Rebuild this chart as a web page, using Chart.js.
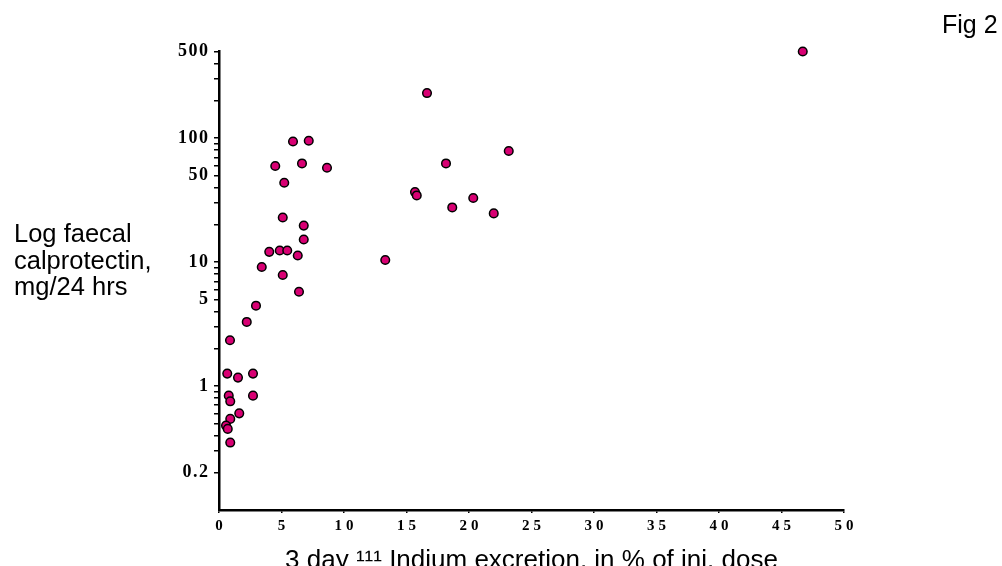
<!DOCTYPE html>
<html>
<head>
<meta charset="utf-8">
<script src="https://cdn.jsdelivr.net/npm/chart.js@4/dist/chart.umd.min.js"></script>
<style>
  body { margin: 0; background: #fff; }
  #wrap { position: relative; width: 1002px; height: 566px; overflow: hidden; }
  #figLabel { position: absolute; left: 942px; top: 12px; font: 25px/25px "Liberation Sans", Arial, sans-serif; color: #000; }
  #yTitle { position: absolute; left: 14px; top: 220px; font: 25.5px/26.7px "Liberation Sans", Arial, sans-serif; color: #000; }
</style>
</head>
<body>
<div id="wrap">
  <canvas id="scatterChart" width="1002" height="566"></canvas>
  <div id="figLabel">Fig 2</div>
  <div id="yTitle">Log faecal<br>calprotectin,<br>mg/24 hrs</div>
</div>
<script>
// 3 day 111In excretion (% of injected dose)
const indiumExcretion = [
  46.7, 16.64, 5.92, 7.18, 23.18, 4.5, 6.64, 8.64, 18.16, 5.22,
  15.68, 15.82, 20.34, 18.66, 21.98, 5.1, 6.78, 6.78, 4.02, 4.86,
  5.46, 6.3, 13.3, 3.42, 5.1, 6.4, 2.96, 2.22, 0.88, 0.66,
  2.72, 1.52, 0.78, 2.72, 0.9, 1.62, 0.9, 0.56, 0.7, 0.9
];
// faecal calprotectin, mg/24 hrs
const calprotectin = [
  500, 231, 94, 95.3, 78.7, 59.6, 62.5, 57.7, 62.5, 43.7,
  36.7, 34.5, 32.9, 27.6, 24.7, 22.9, 19.7, 15.2, 12.1, 12.4,
  12.4, 11.3, 10.4, 9.13, 7.87, 5.77, 4.45, 3.29, 2.34, 1.26,
  1.26, 1.17, 0.837, 0.837, 0.753, 0.602, 0.543, 0.48, 0.451, 0.35
];

const yTickValues = [
  0.2, 0.3, 0.4, 0.5, 0.6, 0.7, 0.8, 0.9,
  1, 2, 3, 4, 5, 6, 7, 8, 9,
  10, 20, 30, 40, 50, 60, 70, 80, 90,
  100, 200, 300, 400, 500
];
const yTickLabels = [0.2, 1, 5, 10, 50, 100, 500];
const xTitle = '3 day \u00B9\u00B9\u00B9 Indium excretion, in % of inj. dose';

const points = indiumExcretion.map((x, i) => ({ x: x, y: calprotectin[i] }));

// the old figure has widely spaced tick digits
// (trailing letter spacing is compensated with a small shift)
const spacedLabels = {
  id: 'spacedLabels',
  afterUpdate(chart) {
    [['x', 4, 2], ['y', 1.5, 1.5]].forEach(([id, gap, shift]) => {
      const s = chart.scales[id];
      if (s._spaced) return;
      const orig = s.drawLabels;
      s.drawLabels = function (area) {
        this.ctx.save();
        this.ctx.letterSpacing = gap + 'px';
        this.ctx.translate(shift, 0);
        orig.call(this, area);
        this.ctx.restore();
      };
      s._spaced = true;
    });
  }
};

const ctx = document.getElementById('scatterChart').getContext('2d');
new Chart(ctx, {
  type: 'scatter',
  data: {
    datasets: [{
      data: points,
      backgroundColor: '#d80073',
      borderColor: '#000',
      borderWidth: 1.5,
      pointRadius: 4.3,
      clip: false
    }]
  },
  options: {
    responsive: false,
    animation: false,
    layout: { padding: { left: 0, top: 51.5, right: 158, bottom: 0 } },
    plugins: { legend: { display: false }, tooltip: { enabled: false } },
    scales: {
      x: {
        type: 'linear',
        min: 0,
        max: 50,
        afterFit: s => { s.height = 56; },
        border: { display: true, color: '#000', width: 2.5 },
        grid: { drawOnChartArea: false, color: '#000', tickLength: 3, lineWidth: 1.5 },
        ticks: {
          stepSize: 5,
          padding: 4,
          color: '#000',
          font: { family: '"Liberation Serif", "Times New Roman", serif', size: 15, weight: 'bold' }
        },
        title: {
          display: true,
          text: xTitle,
          color: '#000',
          padding: { top: 0, bottom: -8 },
          font: { family: '"Liberation Sans", Arial, sans-serif', size: 26, lineHeight: 1 }
        }
      },
      y: {
        type: 'logarithmic',
        min: 0.1,
        max: 500,
        afterFit: s => { s.width = 219; },
        afterBuildTicks: s => { s.ticks = yTickValues.map(v => ({ value: v })); },
        border: { display: true, color: '#000', width: 2.5 },
        grid: { drawOnChartArea: false, color: '#000', tickLength: 5, lineWidth: 1.5 },
        ticks: {
          autoSkip: false,
          padding: 6,
          color: '#000',
          font: { family: '"Liberation Serif", "Times New Roman", serif', size: 18, weight: 'bold' },
          callback: v => yTickLabels.includes(v) ? String(v) : ''
        }
      }
    }
  },
  plugins: [spacedLabels]
});
</script>
</body>
</html>
